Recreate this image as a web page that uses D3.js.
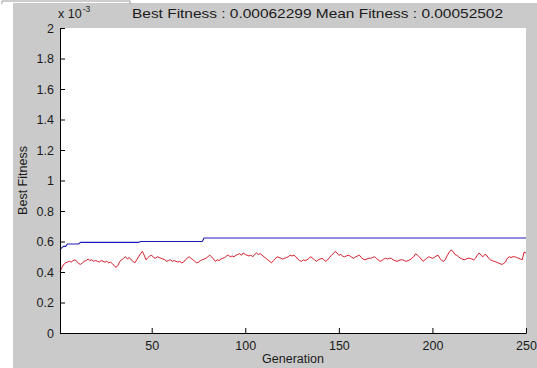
<!DOCTYPE html>
<html>
<head>
<meta charset="utf-8">
<script src="https://cdn.jsdelivr.net/npm/d3@7"></script>
<style>
  body { margin: 0; background: #fff; }
  text { font-family: "Liberation Sans", Arial, sans-serif; fill: #1a1a1a; }
</style>
</head>
<body>
<svg id="vis" width="537" height="368"></svg>
<script>
// values in units of 1e-3
const xTicks = [50, 100, 150, 200, 250];
const yTicks = [0, 0.2, 0.4, 0.6, 0.8, 1, 1.2, 1.4, 1.6, 1.8, 2];

// generations where best fitness improved, and the new best value
const bestGen = [1, 2, 3, 5, 12, 44, 78];
const bestVal = [0.546, 0.56, 0.568, 0.584, 0.594, 0.600, 0.62299];

// mean fitness per generation (1..250)
const meanFitness = [
  0.40, 0.43, 0.45, 0.46, 0.465, 0.47, 0.465, 0.475, 0.48, 0.47,
  0.455, 0.45, 0.46, 0.47, 0.475, 0.485, 0.475, 0.48, 0.47, 0.475,
  0.47, 0.465, 0.475, 0.47, 0.465, 0.47, 0.46, 0.465, 0.455, 0.44,
  0.43, 0.445, 0.47, 0.48, 0.49, 0.50, 0.485, 0.495, 0.48, 0.47,
  0.46, 0.48, 0.50, 0.52, 0.535, 0.51, 0.48, 0.495, 0.505, 0.51,
  0.495, 0.49, 0.50, 0.495, 0.49, 0.485, 0.48, 0.47, 0.475, 0.48,
  0.47, 0.475, 0.47, 0.465, 0.47, 0.46, 0.465, 0.48, 0.49, 0.50,
  0.49, 0.48, 0.47, 0.46, 0.465, 0.475, 0.48, 0.485, 0.49, 0.50,
  0.51, 0.50, 0.485, 0.47, 0.48, 0.475, 0.485, 0.49, 0.495, 0.505,
  0.51, 0.50, 0.505, 0.50, 0.51, 0.515, 0.52, 0.51, 0.525, 0.515,
  0.51, 0.505, 0.51, 0.50, 0.515, 0.525, 0.515, 0.52, 0.51, 0.50,
  0.49, 0.48, 0.47, 0.46, 0.475, 0.485, 0.50, 0.495, 0.49, 0.485,
  0.49, 0.495, 0.50, 0.51, 0.505, 0.51, 0.50, 0.485, 0.475, 0.47,
  0.48, 0.475, 0.48, 0.49, 0.50, 0.49, 0.48, 0.47, 0.48, 0.485,
  0.49, 0.48, 0.47, 0.48, 0.495, 0.51, 0.52, 0.535, 0.525, 0.51,
  0.515, 0.505, 0.50, 0.505, 0.51, 0.505, 0.495, 0.49, 0.50, 0.505,
  0.51, 0.495, 0.485, 0.48, 0.485, 0.49, 0.49, 0.495, 0.50, 0.49,
  0.48, 0.47, 0.475, 0.485, 0.49, 0.485, 0.49, 0.49, 0.48, 0.475,
  0.47, 0.475, 0.48, 0.48, 0.475, 0.47, 0.475, 0.48, 0.49, 0.50,
  0.52, 0.51, 0.50, 0.485, 0.47, 0.48, 0.49, 0.50, 0.495, 0.49,
  0.495, 0.505, 0.51, 0.49, 0.475, 0.47, 0.485, 0.51, 0.53, 0.545,
  0.535, 0.515, 0.51, 0.50, 0.49, 0.485, 0.48, 0.485, 0.49, 0.49,
  0.485, 0.48, 0.49, 0.51, 0.525, 0.51, 0.50, 0.515, 0.51, 0.49,
  0.48, 0.475, 0.47, 0.465, 0.46, 0.455, 0.45, 0.455, 0.465, 0.49,
  0.50, 0.495, 0.50, 0.50, 0.495, 0.49, 0.485, 0.48, 0.53, 0.525
];

function draw() {
    let margin = { top: 28, right: 11, bottom: 35, left: 60 };
    let svg = d3.select("#vis");
    let W = +svg.attr("width"), H = +svg.attr("height");
    let width = W - margin.left - margin.right;
    let height = H - margin.top - margin.bottom;

    // figure background (grey window, white strip at left edge)
    svg.append("rect").attr("x", 13).attr("y", 3).attr("width", W - 13).attr("height", H - 3)
        .attr("fill", "#cacaca");
    svg.append("path").attr("d", "M2,4 L2,1 L130,1 L130,4")
        .attr("fill", "none").attr("stroke", "#9a9a9a").attr("stroke-width", 1);

    let g = svg.append("g").attr("transform", `translate(${margin.left}, ${margin.top})`);
    g.append("rect").attr("width", width).attr("height", height).attr("fill", "#fff");

    let x = d3.scaleLinear().domain([1, 250]).range([0, width]);
    let y = d3.scaleLinear().domain([0, 2]).range([height, 0]);

    let gens = meanFitness.map((d, i) => i + 1);
    let best = gens.map(gen => {
        let v = bestVal[0];
        bestGen.forEach((b, i) => { if (b <= gen) v = bestVal[i]; });
        return v;
    });

    let line = d3.line().x(d => x(d[0])).y(d => y(d[1]));

    g.append("path")
        .datum(gens.map((gen, i) => [gen, meanFitness[i]]))
        .attr("fill", "none").attr("stroke", "#d41c2a").attr("stroke-width", 1)
        .attr("d", line);

    g.append("path")
        .datum(gens.map((gen, i) => [gen, best[i]]))
        .attr("fill", "none").attr("stroke", "#1c1cb8").attr("stroke-width", 1.1)
        .attr("d", line);

    let xAxis = g.append("g")
        .attr("transform", `translate(0, ${height})`)
        .call(d3.axisBottom(x).tickValues(xTicks).tickSizeInner(-5).tickSizeOuter(0).tickPadding(8));
    let yAxis = g.append("g")
        .call(d3.axisLeft(y).tickValues(yTicks).tickSizeInner(-5).tickSizeOuter(0).tickPadding(6)
            .tickFormat(d => String(+d.toFixed(1))));

    [xAxis, yAxis].forEach(a => {
        a.select(".domain").attr("stroke", "#000");
        a.selectAll(".tick line").attr("stroke", "#000");
        a.selectAll(".tick text").attr("font-size", 12.5).attr("fill", "#1a1a1a")
            .style("font-family", "'Liberation Sans', Arial, sans-serif");
    });

    // exponent label
    let ex = svg.append("text").attr("x", 58).attr("y", 18).attr("font-size", 12.5);
    ex.append("tspan").text("x 10");
    ex.append("tspan").attr("dy", -6).attr("dx", 1).attr("font-size", 8.5).text("-3");

    svg.append("text")
        .attr("x", 132).attr("y", 18).attr("font-size", 13.5)
        .attr("textLength", 371).attr("lengthAdjust", "spacingAndGlyphs")
        .text("Best Fitness : 0.00062299 Mean Fitness : 0.00052502");

    svg.append("text")
        .attr("x", margin.left + width / 2).attr("y", 363)
        .attr("text-anchor", "middle").attr("font-size", 12.5)
        .text("Generation");

    svg.append("text")
        .attr("transform", `translate(27, ${margin.top + height / 2}) rotate(-90)`)
        .attr("text-anchor", "middle").attr("font-size", 12.5)
        .text("Best Fitness");
}

document.addEventListener('DOMContentLoaded', () => {
    draw();
});
</script>
</body>
</html>
